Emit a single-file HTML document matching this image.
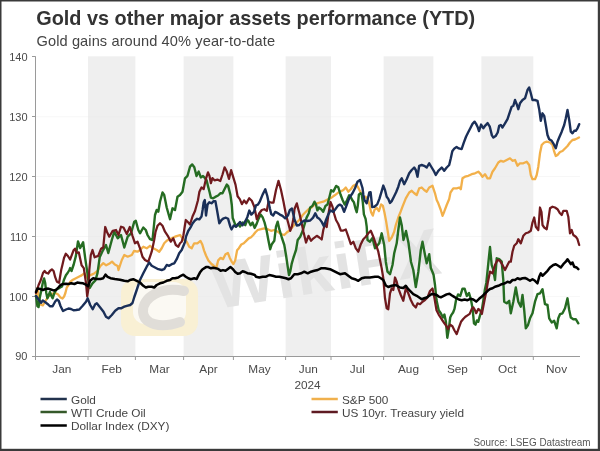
<!DOCTYPE html>
<html><head><meta charset="utf-8"><title>Gold vs other major assets performance (YTD)</title>
<style>html,body{margin:0;padding:0;background:#fff;width:600px;height:451px;overflow:hidden}svg{display:block}text{font-family:"Liberation Sans", Arial, sans-serif}</style>
</head><body>
<svg width="600" height="451" viewBox="0 0 600 451">
<rect x="0" y="0" width="600" height="451" fill="#ffffff"/>
<rect x="88" y="56.3" width="47.4" height="300.0" fill="#efefef"/>
<rect x="183.6" y="56.3" width="49.8" height="300.0" fill="#efefef"/>
<rect x="285.6" y="56.3" width="45.4" height="300.0" fill="#efefef"/>
<rect x="383.6" y="56.3" width="49.8" height="300.0" fill="#efefef"/>
<rect x="481.4" y="56.3" width="51.9" height="300.0" fill="#efefef"/>
<line x1="36" y1="116.7" x2="580" y2="116.7" stroke="#e8e8e8" stroke-width="0.8" opacity="0.45"/>
<line x1="36" y1="176.6" x2="580" y2="176.6" stroke="#e8e8e8" stroke-width="0.8" opacity="0.45"/>
<line x1="36" y1="236.5" x2="580" y2="236.5" stroke="#e8e8e8" stroke-width="0.8" opacity="0.45"/>
<line x1="36" y1="296.4" x2="580" y2="296.4" stroke="#e8e8e8" stroke-width="0.8" opacity="0.45"/>
<g>
<rect x="121" y="279" width="77" height="57" rx="14" fill="#f9f0d4"/>
<rect x="133" y="282" width="53" height="42" rx="12" fill="#fbf9f3"/>
<path d="M184 291 C 162 286, 142 297, 143 312 C 144 324, 160 329, 180 322" fill="none" stroke="#e0ddd8" stroke-width="10" stroke-linecap="round"/>
<text x="216" y="309" font-weight="bold" font-size="66" letter-spacing="2" fill="#e3e3e3" transform="rotate(-9 216 309)">WikiFX</text>
</g>
<line x1="35.5" y1="56.3" x2="35.5" y2="356.5" stroke="#9a9a9a" stroke-width="1"/>
<line x1="32" y1="356.5" x2="580" y2="356.5" stroke="#9a9a9a" stroke-width="1"/>
<line x1="32" y1="56.5" x2="35.5" y2="56.5" stroke="#9a9a9a" stroke-width="1"/>
<text x="27.5" y="60.9" text-anchor="end" font-size="11" fill="#4a4a4a">140</text>
<line x1="32" y1="116.5" x2="35.5" y2="116.5" stroke="#9a9a9a" stroke-width="1"/>
<text x="27.5" y="120.8" text-anchor="end" font-size="11" fill="#4a4a4a">130</text>
<line x1="32" y1="176.5" x2="35.5" y2="176.5" stroke="#9a9a9a" stroke-width="1"/>
<text x="27.5" y="180.7" text-anchor="end" font-size="11" fill="#4a4a4a">120</text>
<line x1="32" y1="236.5" x2="35.5" y2="236.5" stroke="#9a9a9a" stroke-width="1"/>
<text x="27.5" y="240.6" text-anchor="end" font-size="11" fill="#4a4a4a">110</text>
<line x1="32" y1="296.5" x2="35.5" y2="296.5" stroke="#9a9a9a" stroke-width="1"/>
<text x="27.5" y="300.5" text-anchor="end" font-size="11" fill="#4a4a4a">100</text>
<line x1="32" y1="356.5" x2="35.5" y2="356.5" stroke="#9a9a9a" stroke-width="1"/>
<text x="27.5" y="360.4" text-anchor="end" font-size="11" fill="#4a4a4a">90</text>
<line x1="35.5" y1="356.5" x2="35.5" y2="360" stroke="#9a9a9a" stroke-width="1"/>
<line x1="88" y1="356.5" x2="88" y2="360" stroke="#9a9a9a" stroke-width="1"/>
<line x1="135.4" y1="356.5" x2="135.4" y2="360" stroke="#9a9a9a" stroke-width="1"/>
<line x1="183.6" y1="356.5" x2="183.6" y2="360" stroke="#9a9a9a" stroke-width="1"/>
<line x1="233.4" y1="356.5" x2="233.4" y2="360" stroke="#9a9a9a" stroke-width="1"/>
<line x1="285.6" y1="356.5" x2="285.6" y2="360" stroke="#9a9a9a" stroke-width="1"/>
<line x1="331" y1="356.5" x2="331" y2="360" stroke="#9a9a9a" stroke-width="1"/>
<line x1="383.6" y1="356.5" x2="383.6" y2="360" stroke="#9a9a9a" stroke-width="1"/>
<line x1="433.4" y1="356.5" x2="433.4" y2="360" stroke="#9a9a9a" stroke-width="1"/>
<line x1="481.4" y1="356.5" x2="481.4" y2="360" stroke="#9a9a9a" stroke-width="1"/>
<line x1="533.3" y1="356.5" x2="533.3" y2="360" stroke="#9a9a9a" stroke-width="1"/>
<text x="61.8" y="373" text-anchor="middle" font-size="11.8" fill="#4a4a4a">Jan</text>
<text x="111.7" y="373" text-anchor="middle" font-size="11.8" fill="#4a4a4a">Feb</text>
<text x="159.5" y="373" text-anchor="middle" font-size="11.8" fill="#4a4a4a">Mar</text>
<text x="208.5" y="373" text-anchor="middle" font-size="11.8" fill="#4a4a4a">Apr</text>
<text x="259.5" y="373" text-anchor="middle" font-size="11.8" fill="#4a4a4a">May</text>
<text x="308.3" y="373" text-anchor="middle" font-size="11.8" fill="#4a4a4a">Jun</text>
<text x="357.3" y="373" text-anchor="middle" font-size="11.8" fill="#4a4a4a">Jul</text>
<text x="408.5" y="373" text-anchor="middle" font-size="11.8" fill="#4a4a4a">Aug</text>
<text x="457.4" y="373" text-anchor="middle" font-size="11.8" fill="#4a4a4a">Sep</text>
<text x="507.3" y="373" text-anchor="middle" font-size="11.8" fill="#4a4a4a">Oct</text>
<text x="556.6" y="373" text-anchor="middle" font-size="11.8" fill="#4a4a4a">Nov</text>
<text x="307.5" y="389" text-anchor="middle" font-size="11.8" fill="#4a4a4a">2024</text>
<polyline points="36.0,296.0 37.5,288.0 39.0,298.0 40.2,304.5 42.8,305.4 45.5,301.0 48.2,296.5 51.7,293.9 55.2,293.0 57.9,294.3 60.5,297.4 62.5,298.5 64.1,296.5 65.4,293.0 66.7,287.7 68.5,285.0 70.1,282.0 73.0,279.7 75.9,278.2 78.8,276.8 81.6,275.4 84.5,273.2 86.7,277.5 88.9,276.1 91.7,274.6 94.6,273.2 97.5,271.0 100.4,266.0 103.3,263.1 106.2,265.3 109.1,263.8 112.0,261.6 114.8,264.5 117.7,266.0 118.5,270.0 121.8,260.0 124.3,255.0 127.7,256.7 131.8,255.0 134.0,251.0 137.5,251.7 140.0,250.0 143.3,246.7 146.7,248.3 150.0,245.8 153.3,248.3 156.7,250.0 159.2,251.7 161.7,248.3 164.2,243.3 166.7,240.8 169.2,239.2 171.7,238.3 175.0,236.7 177.5,235.8 180.0,235.0 183.3,239.2 186.7,241.7 189.2,246.7 191.7,248.3 194.2,243.3 197.4,243.3 200.5,240.9 202.3,244.5 204.1,250.6 206.0,255.5 208.4,260.4 211.5,264.0 214.5,266.5 216.3,267.7 218.2,260.4 220.6,257.9 223.0,259.1 225.5,254.3 227.9,253.0 229.8,257.9 231.6,261.6 233.4,264.0 235.2,260.4 237.1,250.3 238.9,248.2 241.3,244.5 243.8,243.3 246.2,240.9 248.7,238.4 251.1,237.2 253.5,234.8 255.2,232.5 257.7,230.0 261.0,229.2 264.3,228.3 267.7,229.2 271.0,230.8 274.3,230.0 277.7,231.7 281.0,234.2 284.3,235.0 286.8,232.5 290.2,230.0 292.7,226.7 296.0,223.0 299.3,220.0 302.7,215.0 305.9,211.8 308.8,209.0 311.6,207.5 314.5,204.6 318.0,203.0 323.2,201.7 329.0,198.9 331.8,197.4 334.7,195.3 337.6,193.1 340.5,191.6 343.4,190.0 345.8,187.5 348.3,191.7 350.8,189.2 353.3,185.8 355.8,184.5 357.8,186.7 359.4,190.0 361.7,194.4 363.9,198.3 365.6,196.7 367.8,198.9 369.4,204.4 371.1,212.2 372.8,215.6 374.4,210.0 376.7,207.8 378.9,211.1 381.1,204.4 382.8,205.6 384.4,212.2 386.1,221.1 387.5,230.0 389.2,240.8 391.7,237.5 394.2,231.7 395.8,225.0 398.3,217.5 400.0,213.3 402.5,206.7 405.8,198.3 409.2,192.5 411.7,190.8 414.0,193.0 416.7,195.0 419.2,188.3 421.7,187.5 424.2,190.0 426.7,191.7 429.2,187.5 432.5,185.8 435.0,193.3 436.7,200.0 438.3,203.3 440.8,210.0 442.5,215.8 444.2,211.7 446.7,205.0 449.2,199.0 450.5,192.5 453.3,188.3 456.7,188.3 459.2,187.5 460.8,189.2 462.5,178.3 465.0,176.7 468.3,175.8 471.7,174.2 475.0,173.3 478.3,171.7 480.0,173.3 482.5,176.7 485.0,174.2 487.5,178.3 490.0,178.3 492.5,171.7 495.0,168.3 498.3,162.5 500.8,160.8 503.3,161.7 506.7,160.0 510.0,158.3 512.5,160.8 515.0,160.0 517.5,165.8 520.0,163.3 523.3,163.3 526.7,161.7 529.2,165.0 530.8,175.0 532.5,179.2 535.0,179.2 536.7,175.0 538.3,166.7 540.0,153.3 541.7,145.0 544.2,142.5 546.7,141.7 550.0,142.5 552.5,145.0 554.2,151.7 555.8,156.0 557.5,155.0 560.0,152.0 562.5,151.0 565.0,148.5 567.5,146.0 570.0,142.5 572.5,140.0 575.0,139.5 577.5,138.3 579.0,137.5" fill="none" stroke="#f2b04a" stroke-width="2.3" stroke-linejoin="round" stroke-linecap="round"/>
<polyline points="36.0,296.0 37.4,306.0 38.6,307.0 39.7,298.0 41.3,290.6 43.0,281.7 44.1,278.5 45.2,283.0 46.3,293.0 47.4,298.3 48.6,295.7 49.9,292.0 51.3,295.7 52.6,298.3 54.2,293.5 56.3,289.4 59.7,287.8 62.0,286.5 64.1,279.4 65.9,275.3 67.6,273.0 69.4,270.0 70.1,268.1 71.5,271.0 73.7,264.5 75.9,255.9 78.0,241.4 80.2,248.0 83.1,242.2 85.3,258.8 87.4,273.2 88.9,284.7 89.6,288.0 92.5,283.3 95.4,280.4 97.5,273.2 99.7,257.3 102.7,250.8 106.0,245.0 108.3,253.0 111.8,240.0 114.3,231.7 117.7,238.3 121.0,235.0 124.3,247.5 127.7,236.7 131.0,233.3 134.3,221.7 135.8,220.8 138.3,230.0 140.0,233.3 143.3,227.5 145.8,230.0 147.5,235.0 150.0,239.2 152.5,240.0 155.0,215.0 156.7,210.0 158.3,211.7 160.0,201.7 162.5,192.5 164.2,195.0 166.7,207.5 170.0,219.2 172.5,208.3 175.0,210.0 177.5,196.7 180.0,195.0 182.5,191.7 185.0,178.3 187.5,175.8 190.0,166.7 192.2,164.4 194.3,167.3 196.5,176.0 198.7,171.6 200.8,177.4 203.0,176.0 204.4,177.4 206.6,180.3 208.0,186.1 209.5,191.8 210.9,197.6 213.1,198.3 215.3,196.9 218.1,195.5 220.3,193.3 222.5,193.3 224.6,189.0 226.8,184.6 228.2,186.1 230.4,194.7 231.8,205.0 232.7,218.0 233.5,220.0 236.0,226.7 238.0,223.9 240.0,226.5 242.6,222.6 245.3,225.2 247.3,219.9 248.6,221.2 250.6,225.2 252.6,222.6 254.6,227.9 256.6,223.9 258.6,218.6 260.6,214.6 262.6,217.2 264.6,222.6 266.6,230.5 268.5,240.8 270.2,249.2 271.8,244.2 274.3,240.8 276.0,226.7 277.7,221.7 279.3,229.2 281.8,237.5 284.3,245.0 286.0,255.0 287.7,266.7 289.0,275.0 290.2,271.7 291.8,263.3 293.5,257.5 296.0,250.0 297.7,240.0 300.2,236.7 302.7,230.8 304.4,224.8 306.6,217.6 308.8,213.3 310.2,207.5 312.4,206.1 314.5,201.7 316.0,204.6 317.4,210.4 318.9,207.5 321.0,209.0 323.2,211.8 325.4,206.1 327.5,204.6 329.7,196.0 331.1,190.2 333.3,191.6 336.2,185.9 338.3,187.3 340.5,194.5 342.7,200.3 344.8,204.6 347.0,200.3 349.2,195.3 350.5,196.5 352.2,200.0 353.9,202.2 355.6,208.9 356.7,212.2 357.8,205.6 358.9,194.4 360.6,193.3 361.7,194.4 362.8,202.2 363.9,214.4 365.6,218.9 366.7,226.7 367.5,240.0 370.0,241.7 372.5,238.0 375.0,248.3 377.0,246.0 379.2,243.3 381.7,233.3 384.2,245.0 385.8,261.7 387.5,271.7 390.0,274.2 392.5,265.0 394.2,253.3 396.7,243.3 398.3,230.0 400.0,217.5 401.7,225.0 403.5,240.0 406.0,231.0 408.5,243.0 411.0,262.0 413.3,270.0 415.8,287.0 418.3,272.0 420.8,250.0 422.5,241.7 425.0,255.0 426.7,263.3 429.2,254.2 430.8,268.0 432.5,272.0 433.6,275.0 435.0,285.0 436.5,300.0 438.7,310.3 440.8,313.2 443.0,317.5 444.4,314.6 445.9,321.8 447.3,337.7 448.8,329.1 450.2,317.5 451.6,314.6 453.1,312.5 454.5,308.9 456.0,300.2 458.1,294.4 460.3,295.9 462.5,288.7 464.6,288.7 466.8,295.9 469.0,293.0 471.1,300.2 472.6,308.9 474.0,323.3 475.5,324.7 476.9,320.4 478.3,321.8 479.8,316.1 482.0,308.9 483.4,300.2 484.8,290.1 486.3,282.9 488.3,263.3 490.0,247.0 491.7,265.0 493.3,270.0 495.0,280.0 496.7,258.3 499.2,259.2 501.7,261.7 503.3,280.0 504.2,301.7 506.7,303.3 509.2,300.8 510.8,313.3 513.3,301.7 515.8,287.5 518.3,301.7 520.8,306.7 522.5,295.0 524.2,310.0 525.8,328.3 528.0,325.0 530.0,318.3 532.5,313.3 535.0,301.7 537.5,294.2 540.0,293.3 542.5,289.2 545.0,304.2 547.5,305.0 549.2,318.3 551.7,322.5 554.2,320.8 556.7,328.3 558.3,318.3 560.0,314.2 562.5,313.3 565.0,308.3 567.5,298.3 569.2,310.0 570.8,317.5 573.3,319.2 575.8,319.2 578.3,323.3" fill="none" stroke="#256c22" stroke-width="2.4" stroke-linejoin="round" stroke-linecap="round"/>
<polyline points="36.0,293.0 38.6,285.0 40.8,280.0 43.0,273.0 44.6,271.0 46.4,273.0 48.2,273.5 49.9,271.0 51.9,269.4 53.6,271.0 55.2,277.2 56.9,281.7 59.1,282.8 60.2,276.0 61.3,269.4 62.4,265.0 64.0,258.0 65.8,253.7 67.9,256.0 70.1,259.5 73.7,250.0 75.2,248.7 76.6,253.0 78.8,252.3 81.6,265.3 83.8,268.1 86.0,283.0 87.2,296.5 88.2,290.0 89.3,270.0 90.8,255.0 92.5,250.0 94.6,257.3 98.2,255.9 101.1,248.7 103.3,247.2 105.2,227.0 107.0,232.0 109.3,236.7 112.7,230.8 116.0,230.0 118.5,235.0 121.0,226.7 123.5,227.5 126.8,234.0 129.8,227.0 132.5,235.8 135.0,243.3 137.5,241.7 140.0,248.3 142.5,256.7 145.0,260.0 148.3,261.7 151.7,251.7 154.2,240.0 155.5,232.0 157.5,225.8 160.0,223.3 162.5,225.8 165.0,231.7 168.3,236.7 170.8,241.7 173.3,238.3 175.8,245.0 178.3,246.7 180.0,243.3 181.7,241.7 183.3,236.0 184.5,228.0 185.8,220.0 188.3,222.5 190.0,224.5 192.5,216.5 195.0,211.0 197.9,200.5 199.4,191.8 201.5,187.5 203.7,189.0 205.9,178.9 208.0,172.4 209.5,176.0 210.9,183.2 212.4,178.1 214.5,180.3 217.4,179.6 220.3,181.0 222.5,174.5 224.6,167.3 226.8,171.6 229.0,178.9 231.1,170.2 233.3,177.4 235.5,184.6 237.6,196.2 239.8,199.1 241.9,204.1 244.1,200.5 246.3,203.4 249.2,198.3 251.8,200.8 254.3,206.7 256.8,219.2 259.3,213.3 261.8,210.0 264.3,209.2 266.8,210.8 268.5,201.7 271.0,202.5 273.5,202.5 276.0,190.0 278.5,180.8 281.0,190.0 283.5,201.7 286.0,215.0 288.5,224.0 290.2,230.8 291.8,226.7 293.5,218.3 294.5,209.0 296.8,203.3 298.5,210.0 299.4,213.3 301.5,222.5 303.5,232.0 306.0,242.5 308.5,235.8 311.0,240.8 313.5,238.3 316.8,235.8 319.3,237.5 321.7,239.5 323.3,230.0 325.0,224.0 326.7,227.0 328.3,215.0 330.5,202.0 332.5,206.7 334.2,214.0 336.0,220.0 338.3,224.0 340.8,230.5 343.3,230.5 345.8,229.5 348.3,236.7 350.8,244.2 353.3,241.7 355.8,248.3 358.3,251.7 360.8,244.2 363.3,239.2 365.8,236.7 368.3,233.3 370.8,230.8 373.3,236.7 375.8,244.2 378.3,251.7 380.0,260.0 381.7,268.3 383.3,278.3 385.0,298.3 386.7,308.3 388.3,309.2 390.0,293.3 391.7,288.3 393.3,290.0 395.0,277.5 396.7,281.7 398.3,288.3 400.8,295.0 403.3,300.8 405.8,288.3 408.3,293.3 410.8,300.0 413.3,305.0 415.8,307.5 417.5,303.3 420.0,304.2 422.5,301.7 425.0,300.0 427.5,297.5 430.0,291.0 432.5,288.5 434.3,297.3 436.5,310.3 438.7,314.6 441.5,319.0 444.4,323.3 446.6,326.2 448.0,329.1 450.2,324.7 452.4,326.2 454.5,330.5 456.7,334.1 458.9,327.6 461.0,321.8 463.2,319.0 465.4,316.8 467.5,315.4 469.7,313.9 471.8,308.9 473.3,307.4 474.7,309.6 476.2,313.2 478.3,308.9 480.5,311.0 481.9,313.9 483.4,306.0 484.8,298.8 486.3,291.5 487.7,283.0 490.0,271.7 492.5,273.3 495.0,265.0 497.5,260.0 500.0,260.8 502.5,265.0 505.0,270.0 507.5,265.0 509.2,261.7 510.8,261.7 512.5,251.7 514.2,245.8 516.7,243.3 518.3,239.2 520.8,243.3 523.3,235.8 525.8,233.3 528.3,232.5 530.8,230.8 532.5,222.5 534.2,217.5 535.8,226.7 538.3,230.0 540.0,207.5 541.5,212.0 542.5,225.0 544.2,227.5 546.7,229.2 548.3,220.0 550.0,208.3 552.5,206.7 555.0,207.5 557.5,209.2 560.0,213.3 561.7,215.0 563.3,210.8 566.7,210.8 568.3,216.7 570.0,233.3 571.7,230.0 573.3,235.0 575.8,236.7 577.5,239.2 579.2,245.0" fill="none" stroke="#701a1e" stroke-width="2.25" stroke-linejoin="round" stroke-linecap="round"/>
<polyline points="36.0,296.0 38.6,299.5 41.1,302.7 42.8,300.5 45.0,302.0 48.2,304.5 49.9,306.3 52.6,306.3 55.2,301.5 57.0,299.5 58.8,301.0 60.5,306.0 63.0,311.0 66.0,309.5 68.5,308.5 71.0,309.0 73.5,310.3 76.0,310.0 79.3,309.5 82.7,305.8 86.0,301.7 87.7,298.3 90.2,305.0 92.7,309.2 95.2,304.2 96.8,303.3 100.2,307.5 103.5,311.7 106.0,316.7 108.5,318.3 111.8,315.0 115.2,310.8 118.5,308.3 121.0,308.3 124.3,306.7 126.8,305.8 130.2,305.0 132.5,303.0 134.3,297.0 136.7,290.0 140.0,280.0 143.3,273.3 146.7,266.7 149.2,262.5 151.7,265.8 155.0,267.5 158.3,269.2 161.7,270.0 164.2,269.2 166.7,265.0 169.2,265.8 171.7,264.2 174.2,263.3 176.7,259.2 179.2,253.3 181.7,250.0 185.0,242.0 186.0,236.6 188.2,231.0 190.4,227.7 192.7,223.3 194.9,220.5 197.1,218.8 199.3,219.4 201.5,216.6 202.6,210.0 203.7,202.2 204.8,200.0 206.0,215.5 207.6,204.4 209.3,202.2 211.5,203.3 213.7,201.1 215.4,201.1 217.0,210.0 219.3,223.3 221.5,220.0 223.7,218.3 225.9,217.7 228.1,218.8 230.3,226.6 231.5,229.4 233.7,225.5 236.0,226.6 238.0,224.5 240.0,221.9 242.6,225.2 245.3,221.2 247.3,217.2 249.3,210.6 251.3,214.6 254.0,211.9 256.0,205.3 257.9,204.6 259.9,201.3 262.6,194.6 265.3,189.3 267.3,196.0 268.6,202.6 269.9,208.6 271.2,214.0 273.2,215.5 275.2,211.9 277.9,213.2 279.9,214.6 282.5,215.9 285.2,218.3 287.9,215.5 289.9,209.9 291.9,208.5 294.0,217.0 294.3,219.0 296.8,225.5 299.3,225.0 301.8,222.3 304.4,220.5 307.3,221.0 310.2,220.5 313.1,217.6 315.3,213.3 317.4,217.6 319.6,219.1 321.7,221.9 323.9,226.3 326.0,220.0 328.2,214.7 330.4,210.4 333.3,211.8 335.5,209.0 337.6,206.1 339.8,204.6 341.9,206.1 344.1,211.8 346.3,206.1 348.4,200.3 350.0,196.7 352.5,193.3 355.0,188.3 357.5,181.7 360.0,180.0 362.5,188.0 363.3,194.4 364.4,200.0 366.7,203.3 369.3,192.5 370.6,192.2 372.2,207.0 374.4,206.7 377.2,204.4 379.4,198.9 381.7,191.1 383.3,185.6 385.0,190.0 386.7,196.7 388.3,198.9 390.0,203.0 391.7,201.1 393.9,196.7 396.1,192.2 398.3,186.7 400.0,181.0 401.7,178.3 404.2,184.2 406.7,179.2 409.2,173.3 411.7,170.0 414.2,167.5 415.8,170.0 417.5,176.7 419.2,165.8 421.7,165.0 424.2,165.8 426.7,167.5 429.2,163.3 431.7,167.5 434.2,171.7 435.8,175.0 438.3,170.8 441.7,167.5 444.2,170.8 446.7,167.5 449.2,165.0 450.8,158.3 452.3,151.3 454.4,148.4 456.6,147.0 458.8,148.4 461.6,149.1 463.8,142.6 466.0,136.8 468.1,132.5 470.3,128.2 472.5,123.9 474.6,121.7 476.1,123.9 477.5,126.7 479.0,131.1 481.1,124.6 483.3,128.2 485.5,125.3 487.6,123.1 489.8,126.7 491.9,135.4 493.4,137.6 495.6,136.1 497.7,132.5 499.2,125.8 500.8,125.0 502.5,127.5 505.0,123.3 507.5,119.2 510.0,111.7 511.7,106.7 513.3,105.8 515.0,100.0 516.7,104.2 518.3,109.2 520.0,103.3 522.5,100.0 525.0,98.3 527.5,90.0 529.2,87.5 530.8,93.3 532.5,100.0 535.0,100.0 537.5,100.8 539.2,109.2 540.8,120.8 542.5,113.3 544.2,115.8 545.8,125.0 547.5,135.0 549.2,139.2 551.7,140.8 553.3,143.3 555.8,148.3 557.5,141.7 559.2,137.5 561.7,131.7 564.2,125.0 565.8,118.3 567.5,110.0 569.2,120.0 570.8,131.7 572.5,133.3 574.2,130.8 575.8,130.8 577.5,128.3 579.2,124.2" fill="none" stroke="#1a2f58" stroke-width="2.4" stroke-linejoin="round" stroke-linecap="round"/>
<polyline points="36.0,292.0 37.5,288.6 40.2,289.0 42.8,290.0 45.5,289.0 48.2,288.6 50.8,289.5 53.5,290.4 56.1,290.0 58.8,287.0 60.5,285.0 63.2,284.0 65.9,283.8 68.5,284.0 71.2,283.3 74.4,284.0 77.3,282.6 80.2,282.9 83.1,283.3 86.0,284.7 88.1,286.2 90.3,280.4 93.2,278.2 96.1,279.0 100.4,279.0 103.3,278.2 105.5,274.6 107.6,276.8 110.5,278.2 114.8,279.0 120.0,279.7 124.3,280.8 127.7,281.3 130.0,280.0 133.3,279.2 136.7,280.8 140.0,282.5 143.3,285.8 145.8,287.5 148.3,286.7 151.7,286.7 154.2,287.5 156.7,285.0 160.0,283.3 163.3,282.5 166.7,280.8 170.0,280.0 172.5,278.3 175.0,278.3 178.3,277.5 180.8,275.8 183.3,274.7 185.8,276.7 188.3,278.3 190.8,279.2 194.2,278.3 196.7,279.0 197.4,277.4 199.9,272.6 202.3,269.5 206.0,267.1 208.4,267.1 210.9,268.3 213.3,267.7 215.7,268.3 218.2,268.9 220.6,270.7 223.0,270.1 225.5,270.7 227.9,268.9 230.4,267.1 232.8,268.9 235.2,272.0 237.7,273.8 240.1,273.2 242.6,271.3 245.0,272.0 247.4,273.2 251.1,273.8 254.8,275.0 256.0,276.7 259.3,277.5 262.7,276.7 266.0,276.7 269.3,275.0 272.7,275.8 276.0,276.7 279.3,276.7 282.7,277.5 286.0,278.3 288.5,279.2 291.0,278.3 294.3,274.2 297.7,274.2 301.0,273.3 304.3,271.7 307.7,273.3 311.0,271.7 314.3,270.8 317.7,270.0 321.0,268.3 325.0,268.3 330.0,269.2 335.0,271.7 340.0,274.2 345.0,273.3 348.3,275.8 351.7,278.3 355.0,279.2 358.3,280.8 361.7,278.3 365.0,277.5 370.0,277.5 375.0,276.7 378.3,276.7 380.8,278.3 383.3,280.0 385.8,285.5 388.3,287.0 391.7,285.8 395.8,285.0 400.0,287.5 403.3,288.0 405.8,285.8 408.3,289.2 410.8,291.7 413.3,294.2 416.7,295.8 419.2,297.5 421.7,299.2 424.2,298.3 426.7,297.5 429.2,295.8 431.7,294.0 434.2,294.2 436.7,295.0 438.7,296.6 440.8,297.3 443.7,295.9 446.6,294.4 449.5,293.7 451.6,295.2 453.8,296.6 456.0,298.0 458.9,299.5 461.7,300.2 464.6,299.5 467.5,300.2 470.4,298.8 473.3,299.5 476.2,301.6 479.1,298.8 481.9,296.6 484.8,293.7 487.7,290.8 490.0,289.0 492.5,288.3 495.0,286.7 498.3,285.8 501.7,284.2 505.0,283.3 507.5,281.7 510.0,282.5 512.5,280.0 515.0,280.0 517.5,278.3 520.0,279.2 522.5,278.3 525.0,278.0 527.5,279.2 530.0,280.8 532.5,279.2 535.0,280.8 537.5,283.3 539.2,276.7 540.8,273.3 542.5,275.8 545.0,273.3 547.5,270.8 550.0,267.5 553.3,265.0 555.8,264.2 558.3,265.8 560.8,267.5 563.3,264.2 565.8,261.7 567.5,259.2 569.2,261.7 570.8,264.2 572.5,262.5 574.2,266.7 576.7,267.5 578.3,269.2" fill="none" stroke="#000000" stroke-width="2.5" stroke-linejoin="round" stroke-linecap="round"/>
<line x1="40.5" y1="399" x2="66.8" y2="399" stroke="#22324d" stroke-width="2.5"/>
<text x="71.0" y="403.8" font-size="11.8" fill="#444">Gold</text>
<line x1="40.5" y1="412" x2="66.8" y2="412" stroke="#35592a" stroke-width="2.5"/>
<text x="71.0" y="416.8" font-size="11.8" fill="#444">WTI Crude Oil</text>
<line x1="40.5" y1="425.5" x2="66.8" y2="425.5" stroke="#000000" stroke-width="2.5"/>
<text x="71.0" y="430.3" font-size="11.8" fill="#444">Dollar Index (DXY)</text>
<line x1="311.5" y1="399" x2="337.8" y2="399" stroke="#f0b04c" stroke-width="2.5"/>
<text x="342.0" y="403.8" font-size="11.8" fill="#444">S&amp;P 500</text>
<line x1="311.5" y1="412" x2="337.8" y2="412" stroke="#5e1a22" stroke-width="2.5"/>
<text x="342.0" y="416.8" font-size="11.8" fill="#444">US 10yr. Treasury yield</text>
<text transform="translate(590.5 446) scale(0.9 1)" text-anchor="end" font-size="11" fill="#555">Source: LSEG Datastream</text>
<text x="36.3" y="24.6" font-weight="bold" font-size="19.85" fill="#333">Gold vs other major assets performance (YTD)</text>
<text x="36.5" y="46" font-size="14.6" letter-spacing="0.1" fill="#444">Gold gains around 40% year-to-date</text>
<rect x="0" y="0" width="600" height="1.5" fill="#3a3a3a"/>
<rect x="0" y="0" width="1.5" height="451" fill="#3a3a3a"/>
<rect x="597.8" y="0" width="2.2" height="451" fill="#3d3d3d"/>
<rect x="0" y="448.8" width="600" height="2.2" fill="#3a3a3a"/>
</svg>
</body></html>
